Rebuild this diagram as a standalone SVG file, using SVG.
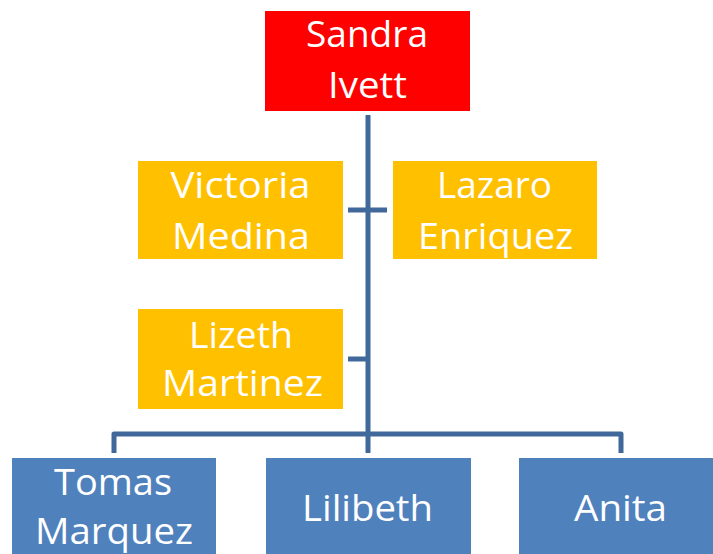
<svg xmlns="http://www.w3.org/2000/svg" width="713" height="554" viewBox="0 0 713 554">
<style>
.lbl{font-family:"Open Sans","Liberation Sans",sans-serif;font-size:36px;fill:#ffffff;text-anchor:middle}
.red{fill:#ff0000}
.org{fill:#ffc000}
.blu{fill:#4f81bd}
.con{fill:none;stroke:#41689b;stroke-width:5;stroke-linejoin:round}
</style>
<rect width="713" height="554" fill="#ffffff"/>
<g id="connectors">
<path class="con" d="M368,115 V453"/>
<path class="con" d="M348,210 H387"/>
<path class="con" d="M348,359 H368"/>
<path class="con" d="M114,453 V434 H621 V453"/>
</g>
<g id="sandra">
<rect class="red" x="265" y="11" width="205" height="100"/>
<text class="lbl" x="367" y="47" textLength="122" lengthAdjust="spacingAndGlyphs">Sandra</text>
<text class="lbl" x="367.5" y="98" textLength="79" lengthAdjust="spacingAndGlyphs">Ivett</text>
</g>
<g id="victoria">
<rect class="org" x="138" y="161" width="205" height="98"/>
<text class="lbl" x="240.5" y="198" textLength="140" lengthAdjust="spacingAndGlyphs">Victoria</text>
<text class="lbl" x="241" y="249" textLength="138" lengthAdjust="spacingAndGlyphs">Medina</text>
</g>
<g id="lazaro">
<rect class="org" x="393" y="161" width="204" height="98"/>
<text class="lbl" x="494.5" y="198" textLength="115" lengthAdjust="spacingAndGlyphs">Lazaro</text>
<text class="lbl" x="495.5" y="249" textLength="155" lengthAdjust="spacingAndGlyphs">Enriquez</text>
</g>
<g id="lizeth">
<rect class="org" x="138" y="309" width="205" height="100"/>
<text class="lbl" x="241" y="348" textLength="104" lengthAdjust="spacingAndGlyphs">Lizeth</text>
<text class="lbl" x="242.5" y="396" textLength="161" lengthAdjust="spacingAndGlyphs">Martinez</text>
</g>
<g id="tomas">
<rect class="blu" x="12" y="458" width="204" height="100"/>
<text class="lbl" x="113" y="495" textLength="118" lengthAdjust="spacingAndGlyphs">Tomas</text>
<text class="lbl" x="114" y="544" textLength="158" lengthAdjust="spacingAndGlyphs">Marquez</text>
</g>
<g id="lilibeth">
<rect class="blu" x="266" y="458" width="205" height="100"/>
<text class="lbl" x="367.5" y="521" textLength="131" lengthAdjust="spacingAndGlyphs">Lilibeth</text>
</g>
<g id="anita">
<rect class="blu" x="519" y="458" width="205" height="100"/>
<text class="lbl" x="620.5" y="521" textLength="93" lengthAdjust="spacingAndGlyphs">Anita</text>
</g>
</svg>
